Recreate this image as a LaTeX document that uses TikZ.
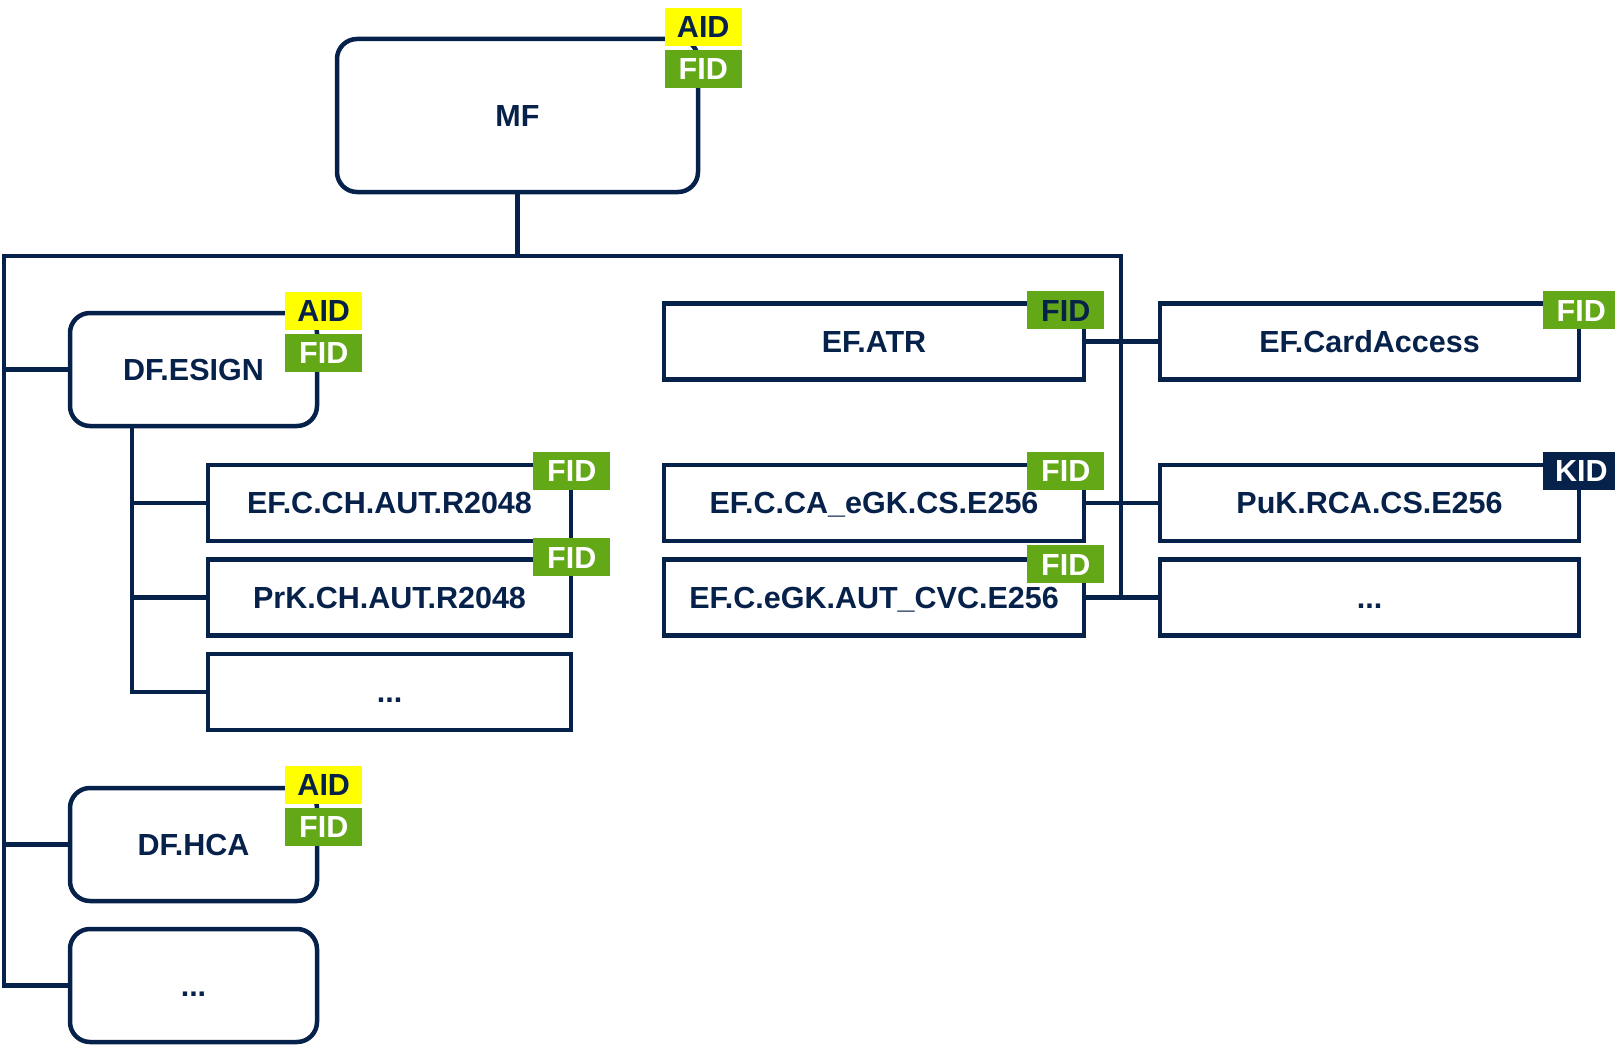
\documentclass[tikz,border=0pt]{standalone}
\usepackage{fontspec}
\setmainfont{Liberation Sans}
\usetikzlibrary{positioning}
\definecolor{cardnavy}{RGB}{6,33,74}
\definecolor{fidgreen}{RGB}{99,168,23}
\definecolor{aidyellow}{RGB}{255,255,0}

\begin{document}
\begin{tikzpicture}[x=1pt, y=-1pt,
  every node/.style={font=\fontsize{30.5}{34}\bfseries\selectfont, text=cardnavy, text height=21.5pt, text depth=0pt},
  dfbox/.style={draw=cardnavy, line width=4.5pt, rounded corners=20pt, minimum width=247pt, minimum height=113pt, inner sep=0pt},
  efbox/.style={draw=cardnavy, line width=4.5pt, minimum height=76pt, inner sep=0pt},
  tagbox/.style={minimum width=77pt, minimum height=38pt, inner sep=0pt, outer sep=0pt},
  aidtag/.style={tagbox, fill=aidyellow},
  fidtag/.style={tagbox, fill=fidgreen, text=white},
  kidtag/.style={tagbox, fill=cardnavy, text=white},
  wire/.style={draw=cardnavy, line width=4.5pt}]
  \useasboundingbox (0,0) rectangle (1615,1049);

  % master file
  \node[dfbox, minimum width=361pt, minimum height=153pt] (mf) at (517.5,115.5) {MF};
  \node[aidtag, anchor=north] (mfaid) at ([xshift=3pt, yshift=29pt]mf.north east) {AID};
  \node[fidtag, below=4pt of mfaid] (mffid) {FID};

  % dedicated files
  \node[dfbox] (esign) at (193.5,369.5) {DF.ESIGN};
  \node[aidtag, anchor=north] (esignaid) at ([xshift=4.5pt, yshift=19pt]esign.north east) {AID};
  \node[fidtag, below=4pt of esignaid] (esignfid) {FID};
  \node[dfbox] (hca) at (193.5,844.5) {DF.HCA};
  \node[aidtag, anchor=north] (hcaaid) at ([xshift=4.5pt, yshift=20pt]hca.north east) {AID};
  \node[fidtag, below=4pt of hcaaid] (hcafid) {FID};
  \node[dfbox] (dfmore) at (193.5,985.5) {...};

  % DF.ESIGN content
  \node[efbox, minimum width=363pt] (chaut) at (389.5,503) {EF.C.CH.AUT.R2048};
  \node[fidtag, anchor=north] (chautfid) at ([xshift=-1.5pt, yshift=11pt]chaut.north east) {FID};
  \node[efbox, minimum width=363pt] (prk) at (389.5,597.5) {PrK.CH.AUT.R2048};
  \node[fidtag, anchor=north] (prkfid) at ([xshift=-1.5pt, yshift=19pt]prk.north east) {FID};
  \node[efbox, minimum width=363pt] (esmore) at (389.5,692) {...};

  % MF elementary files
  \node[efbox, minimum width=420pt] (atr) at (874,341.5) {EF.ATR};
  \node[fidtag, text=cardnavy, anchor=north] (atrfid) at ([xshift=-20.5pt, yshift=10pt]atr.north east) {FID};
  \node[efbox, minimum width=420pt] (cacs) at (874,503) {EF.C.CA\_eGK.CS.E256};
  \node[fidtag, anchor=north] (cacsfid) at ([xshift=-20.5pt, yshift=11pt]cacs.north east) {FID};
  \node[efbox, minimum width=420pt] (cvc) at (874,597.5) {EF.C.eGK.AUT\_CVC.E256};
  \node[fidtag, anchor=north] (cvcfid) at ([xshift=-20.5pt, yshift=12pt]cvc.north east) {FID};

  \node[efbox, minimum width=419pt] (cardacc) at (1369.5,341.5) {EF.CardAccess};
  \node[fidtag, anchor=north] (cardaccfid) at ([yshift=10pt]cardacc.north east) {FID};
  \node[efbox, minimum width=419pt] (puk) at (1369.5,503) {PuK.RCA.CS.E256};
  \node[kidtag, anchor=north] (pukkid) at ([yshift=11pt]puk.north east) {KID};
  \node[efbox, minimum width=419pt] (efmore) at (1369.5,597.5) {...};

  % tree lines
  \coordinate (busL) at (4,256);
  \coordinate (busR) at (1121,256);
  \draw[wire] (mf.south) -- (mf.south |- busL);
  \draw[wire] (busR |- cvc.east) -- (busR) -- (busL) |- (dfmore.west);
  \draw[wire] (busL |- esign.west) -- (esign.west);
  \draw[wire] (busL |- hca.west) -- (hca.west);
  \coordinate (esstem) at ([xshift=64pt]esign.south west);
  \draw[wire] (esstem) |- (esmore.west);
  \draw[wire] (esstem |- chaut.west) -- (chaut.west);
  \draw[wire] (esstem |- prk.west) -- (prk.west);
  \draw[wire] (atr.east) -- (cardacc.west);
  \draw[wire] (cacs.east) -- (puk.west);
  \draw[wire] (cvc.east) -- (efmore.west);
\end{tikzpicture}
\end{document}
